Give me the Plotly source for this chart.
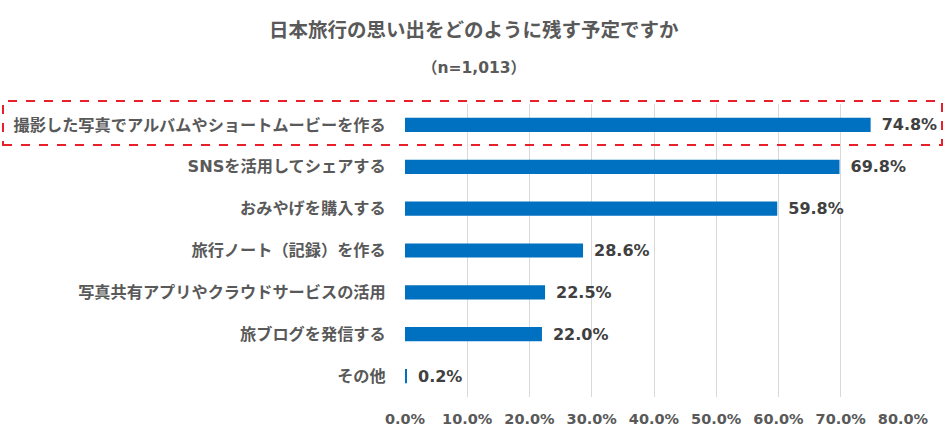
import plotly.graph_objects as go

categories = [
    "撮影した写真でアルバムやショートムービーを作る",
    "SNSを活用してシェアする",
    "おみやげを購入する",
    "旅行ノート（記録）を作る",
    "写真共有アプリやクラウドサービスの活用",
    "旅ブログを発信する",
    "その他",
]
values = [74.8, 69.8, 59.8, 28.6, 22.5, 22.0, 0.2]
tick_vals = [0, 10, 20, 30, 40, 50, 60, 70, 80]
tick_text = ["0.0%", "10.0%", "20.0%", "30.0%", "40.0%", "50.0%", "60.0%", "70.0%", "80.0%"]

FONT = "DejaVu Sans, Noto Sans CJK JP"
GRAY = "#595959"

W, H = 945, 441
# plot area in px: x 405..903, y 104..397
L, R, T, B = 405, 945 - 903, 104, 441 - 397
pw, ph = W - L - R, H - T - B


def px(x):
    return (x - L) / pw


def py(y):
    return 1 - (y - T) / ph


fig = go.Figure()
fig.add_trace(go.Bar(
    x=values,
    y=categories,
    orientation="h",
    width=0.34,
    marker=dict(color="#0070C0", line=dict(width=0)),
    text=[f"<b>\u2002{v:.1f}%</b>" for v in values],
    textposition="outside",
    constraintext="none",
    textfont=dict(family=FONT, size=16, color="#404040"),
    cliponaxis=False,
    hoverinfo="skip",
))

fig.update_layout(
    width=W,
    height=H,
    margin=dict(l=L, r=R, t=T, b=B, autoexpand=False),
    paper_bgcolor="white",
    plot_bgcolor="white",
    showlegend=False,
    font=dict(family=FONT, color=GRAY),
    xaxis=dict(
        range=[0, 80],
        tickvals=tick_vals,
        ticktext=[f"<b>{t}</b>" for t in tick_text],
        tickfont=dict(family=FONT, size=14.5, color=GRAY),
        showgrid=True,
        gridcolor="#d9d9d9",
        gridwidth=1,
        zeroline=False,
        showline=False,
        ticks="outside",
        ticklen=9,
        tickcolor="rgba(0,0,0,0)",
        automargin=False,
        fixedrange=True,
    ),
    yaxis=dict(
        autorange="reversed",
        tickvals=categories,
        ticktext=[f"<b>{c}</b>" for c in categories],
        tickfont=dict(family=FONT, size=16.2, color=GRAY),
        showgrid=False,
        zeroline=False,
        showline=False,
        ticks="outside",
        ticklen=15,
        tickcolor="rgba(0,0,0,0)",
        automargin=False,
        fixedrange=True,
    ),
    annotations=[
        dict(text="<b>日本旅行の思い出をどのように残す予定ですか</b>", xref="paper", yref="paper",
             x=px(474), y=py(30), showarrow=False, xanchor="center", yanchor="middle",
             font=dict(family=FONT, size=19.5, color=GRAY)),
        dict(text="<b>（n=1,013）</b>", xref="paper", yref="paper",
             x=px(474), y=py(68), showarrow=False, xanchor="center", yanchor="middle",
             font=dict(family=FONT, size=15.5, color=GRAY)),
    ],
    shapes=[
        dict(type="rect", xref="paper", yref="paper",
             x0=px(3), x1=px(942), y0=py(145), y1=py(101),
             line=dict(color="#E8202A", width=2, dash="dash"),
             fillcolor="rgba(0,0,0,0)", layer="above"),
    ],
)

fig.write_html(
    "out.html",
    config={"displayModeBar": False},
    post_script="document.body.style.margin='0';",
)
